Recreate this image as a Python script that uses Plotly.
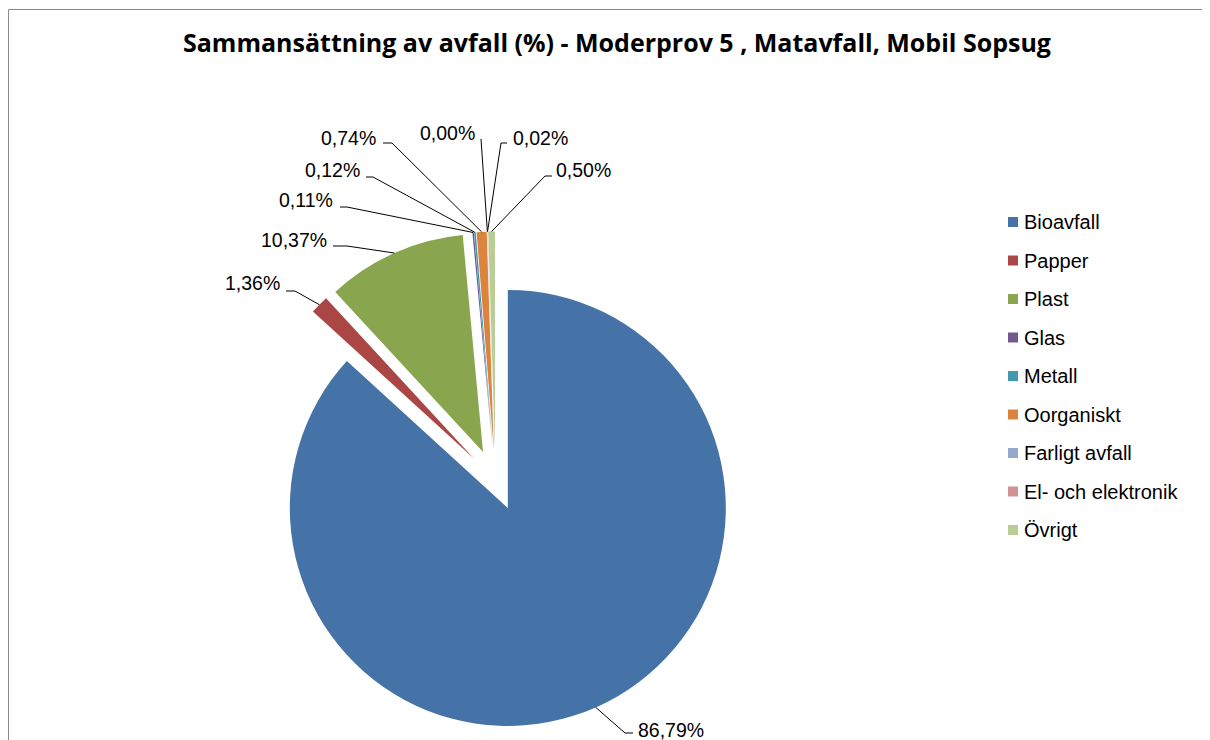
import math
import plotly.graph_objects as go

# ---------------- data ----------------
categories = ["Bioavfall", "Papper", "Plast", "Glas", "Metall", "Oorganiskt",
              "Farligt avfall", "El- och elektronik", "Övrigt"]
values = [86.79, 1.36, 10.37, 0.11, 0.12, 0.74, 0.00, 0.02, 0.50]
colors = ["#4572A7", "#AA4643", "#89A54E", "#71588F", "#4198AF", "#DB843D",
          "#93A9CF", "#D19392", "#B9CD96"]
title_text = "Sammansättning av avfall (%) - Moderprov 5 , Matavfall, Mobil Sopsug"

# ---------------- layout constants (page pixels) ----------------
OFF = 8                      # page body margin
W, H = 1202, 732             # figure size
PULL = 0.14
CX, CY = 495.5, 480.0
R = 218.0
HALF = R * (1 + PULL)

# label placement: (text_x, text_y, xanchor, elbow_x, elbow_y, segment_end_x)
label_layout = [
    (636, 730, "left", 625, 733, 633),
    (282, 283, "right", 295, 291, 286),
    (329, 240, "right", 347, 246, 333),
    (335, 200, "right", 347, 207, 340),
    (362, 170, "right", 373, 177, 366),
    (378, 138, "right", 392, 143, 383),
    (477, 133, "right", 481, 139, 481),
    (511, 138, "left", 501, 143, 507),
    (554, 170, "left", 545, 176, 552),
]

LEG_X, LEG_Y0, LEG_DY, LEG_SQ = 1008, 222, 38.5, 10


def px(x):
    return (x - OFF) / W


def py(y):
    return 1 - (y - OFF) / H


domain_x = [px(CX - HALF), px(CX + HALF)]
domain_y = [py(CY + HALF), py(CY - HALF)]

fig = go.Figure(go.Pie(
    labels=categories, values=values, sort=False, direction="clockwise",
    rotation=0, pull=[PULL] * len(values),
    marker=dict(colors=colors, line=dict(width=0)),
    textinfo="none", showlegend=False,
    domain=dict(x=domain_x, y=domain_y),
))

shapes = []
annotations = []

# frame
shapes.append(dict(type="line", xref="paper", yref="paper",
                   x0=px(8.5), y0=py(9.5), x1=px(1215), y1=py(9.5),
                   line=dict(color="#8a8a8a", width=1)))
shapes.append(dict(type="line", xref="paper", yref="paper",
                   x0=px(8.5), y0=py(9.5), x1=px(8.5), y1=py(745),
                   line=dict(color="#8a8a8a", width=1)))

# title
annotations.append(dict(text="<b>" + title_text + "</b>", xref="paper", yref="paper",
                        x=px(617), y=py(42), xanchor="center", yanchor="middle",
                        showarrow=False,
                        font=dict(family="Open Sans, Liberation Sans, sans-serif",
                                  size=25, color="#000000")))

# data labels with leader lines (anchor derived from slice angles)
total = sum(values)
cum = 0.0
for i, v in enumerate(values):
    mid = (cum + v / 2) / total
    cum += v
    ang = 2 * math.pi * mid
    dx, dy = math.sin(ang), -math.cos(ang)
    ax_ = CX + HALF * dx
    ay_ = CY + HALF * dy
    tx, ty, xa, ex, ey, sx = label_layout[i]
    path = f"M {px(ax_)},{py(ay_)} L {px(ex)},{py(ey)} L {px(sx)},{py(ey)}"
    shapes.append(dict(type="path", xref="paper", yref="paper", path=path,
                       line=dict(color="#000000", width=1)))
    txt = f"{v:.2f}%".replace(".", ",")
    annotations.append(dict(text=txt, xref="paper", yref="paper", x=px(tx), y=py(ty),
                            xanchor=xa, yanchor="middle", showarrow=False,
                            font=dict(family="Liberation Sans, Arial, sans-serif",
                                      size=19.5, color="#000000")))

# legend (manual)
for i, (name, c) in enumerate(zip(categories, colors)):
    yc = LEG_Y0 + i * LEG_DY
    shapes.append(dict(type="rect", xref="paper", yref="paper",
                       x0=px(LEG_X), x1=px(LEG_X + LEG_SQ),
                       y0=py(yc + LEG_SQ / 2), y1=py(yc - LEG_SQ / 2),
                       fillcolor=c, line=dict(width=0)))
    annotations.append(dict(text=name, xref="paper", yref="paper",
                            x=px(LEG_X + LEG_SQ + 4), y=py(yc),
                            xanchor="left", yanchor="middle", showarrow=False,
                            font=dict(family="Liberation Sans, Arial, sans-serif",
                                      size=20, color="#000000")))

fig.update_layout(width=W, height=H, margin=dict(l=0, r=0, t=0, b=0),
                  paper_bgcolor="#ffffff", plot_bgcolor="#ffffff",
                  shapes=shapes, annotations=annotations, showlegend=False)

fig.write_html("out.html")
